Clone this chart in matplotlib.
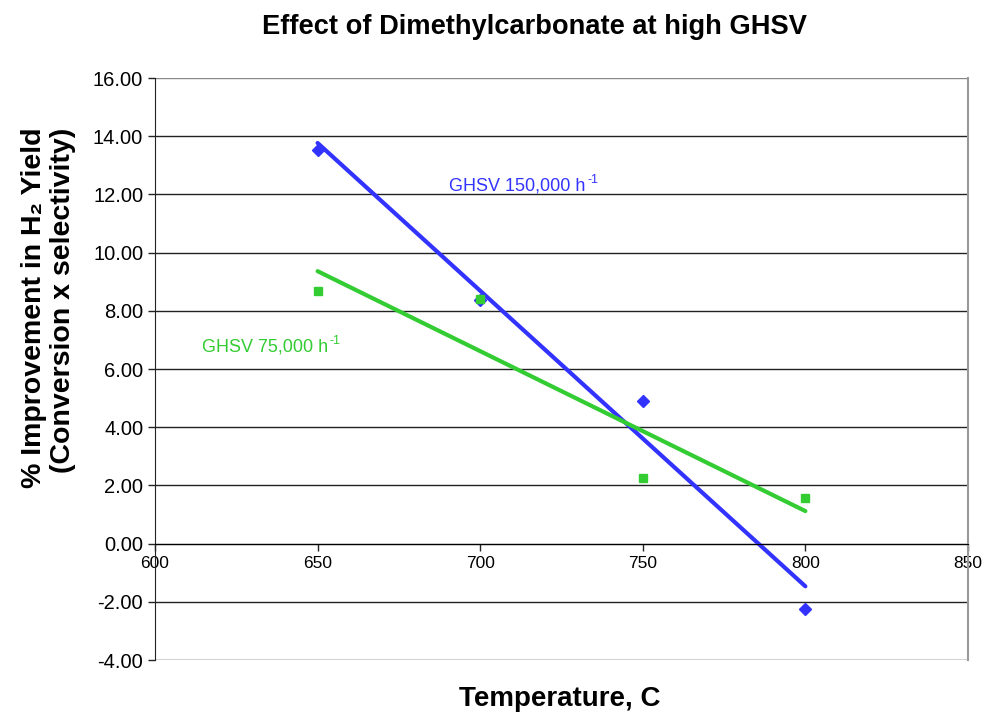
"""
Effect of Dimethylcarbonate at high GHSV: % improvement in H2 yield vs temperature,
two GHSV series with linear trend lines.
"""

import matplotlib
matplotlib.use("Agg")
import matplotlib.pyplot as plt
import numpy as np

plt.rcParams["font.family"] = ["Liberation Sans", "DejaVu Sans"]

# ── data ────────────────────────────────────────────────────────────────────
temps = [650, 700, 750, 800]
ghsv_150k = [13.54, 8.38, 4.91, -2.23]
ghsv_75k = [8.69, 8.42, 2.27, 1.58]

x_ticks = [600, 650, 700, 750, 800, 850]
y_ticks = [-4, -2, 0, 2, 4, 6, 8, 10, 12, 14, 16]

BLUE = "#3333FF"
GREEN = "#33CC33"

fig = plt.figure(figsize=(9.86, 7.15), dpi=100)
ax = fig.add_axes([0.1572, 0.0769, 0.9817 - 0.1572, 0.8909 - 0.0769])

# gridlines
for yv in y_ticks:
    ax.axhline(yv, color="#222222" if yv != 16 else "#888888", lw=1.0, zorder=1)

# points
ax.plot(temps, ghsv_150k, ls="none", marker="D", ms=6, color=BLUE, zorder=3)
ax.plot(temps, ghsv_75k, ls="none", marker="s", ms=6, color=GREEN, zorder=3)

# linear trend lines
t = np.array(temps, dtype=float)
for vals, col in [(ghsv_150k, BLUE), (ghsv_75k, GREEN)]:
    coef = np.polyfit(t, vals, 1)
    ax.plot(t[[0, -1]], np.polyval(coef, t[[0, -1]]), color=col, lw=3, zorder=2,
            solid_capstyle="round")

# series labels with a small "-1" superscript
for x0, y0, txt, col in [(690.5, 12.3, "GHSV 150,000 h", BLUE),
                         (614.5, 6.75, "GHSV 75,000 h", GREEN)]:
    t_main = ax.text(x0, y0, txt, color=col, fontsize=13, va="center")
    ax.annotate("-1", xy=(1, 1), xycoords=t_main, xytext=(1, -2),
                textcoords="offset points", ha="left", va="center",
                color=col, fontsize=9)

# spine move resets tick props, so do it before styling ticks
ax.spines["bottom"].set_position(("data", 0))
ax.spines["top"].set_visible(False)
ax.spines["right"].set_color("#999999")
ax.spines["right"].set_linewidth(1.5)
ax.spines["left"].set_color("#222222")

ax.set_xlim(600, 850)
ax.set_ylim(-4, 16)
ax.set_xticks(x_ticks)
ax.set_yticks(y_ticks)
ax.set_yticklabels([f"{v:.2f}" for v in y_ticks])
ax.set_xticklabels([str(v) for v in x_ticks])
ax.tick_params(axis="both", direction="out", length=5, width=1, color="#222222")
ax.tick_params(axis="y", labelsize=14.5)
ax.tick_params(axis="x", labelsize=12.5, pad=4)

fig.text(0.5416, 0.962, "Effect of Dimethylcarbonate at high GHSV",
         ha="center", va="center", fontsize=19.6, fontweight="bold")
fig.text(0.5675, 0.022, "Temperature, C", ha="center", va="center",
         fontsize=20, fontweight="bold")
fig.text(0.049, 1 - 128 / 715, "% Improvement in H\u2082 Yield\n(Conversion x selectivity)",
         ha="center", va="top", rotation=90, multialignment="right",
         fontsize=20.5, fontweight="bold", linespacing=1.15)

fig.savefig("out.png", dpi=100)
